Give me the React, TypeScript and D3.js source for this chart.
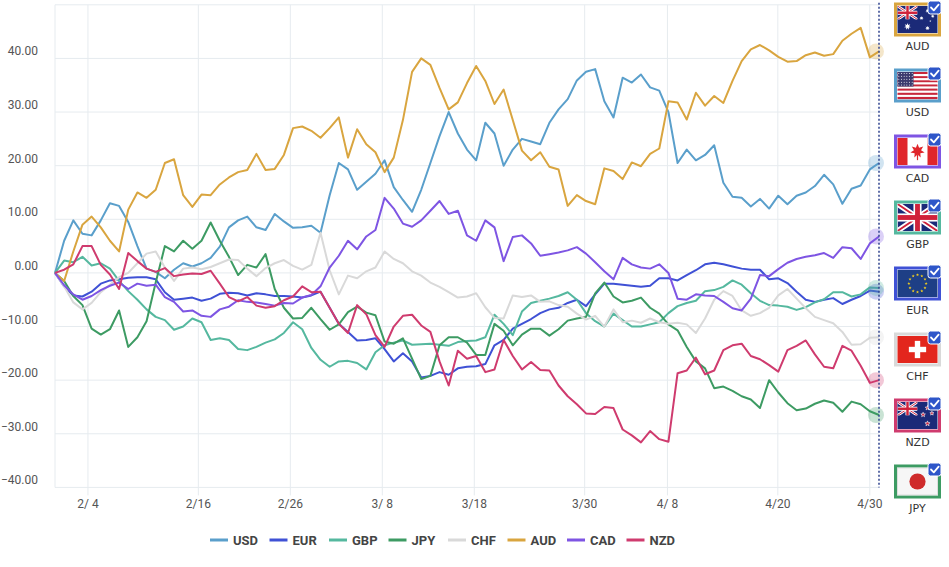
import React from "react";
import * as d3 from "d3";

const currencies = ["USD", "EUR", "GBP", "JPY", "CHF", "AUD", "CAD", "NZD"];
const lineColors = ["#5a9fcb", "#3f51d5", "#55b89f", "#3d9b63", "#d9d9d9", "#d9a53f", "#7e55e3", "#cf3b6e"];

const firstTime = "2019-01-31T10:00";
const lastTime = "2019-05-01T00:00";
const xTickDays = ["2019-02-04", "2019-02-16", "2019-02-26", "2019-03-08", "2019-03-18", "2019-03-30", "2019-04-08", "2019-04-20", "2019-04-30"];
const yTickValues = [-40, -30, -20, -10, 0, 10, 20, 30, 40];

const usd = [
  0, 6, 9.8, 7.3, 7, 9.8, 13, 12.5, 9.5, 5,
  0.8, 0.2, -1, 0.6, 1.8, 1.2, 1.8, 2.8, 4.9, 8.5,
  9.8, 10.5, 8.5, 8, 11, 9.6, 8.4, 8.5, 8.8, 7.5,
  14.5, 20.5, 19.3, 15.5, 17, 18.5, 21, 16, 13.6, 11.4,
  15.5, 20.5, 25.5, 30, 26, 23, 21, 28, 26, 20,
  23, 25, 24.5, 24, 28, 30.5, 32.4, 35.9, 37.5, 38,
  32, 29, 36.4, 35.5, 37, 34.6, 34, 30, 20.5, 23,
  21, 22, 23.8, 16.8, 14.2, 14, 12.4, 13.8, 12, 14.4,
  12.8, 14.4, 15, 16.2, 18.3, 16.5, 12.9, 15.7, 16.3, 19.3,
  20.5,
];
const eur = [
  0, -2.5, -4.2, -4.4, -3.5, -2, -1.4, -1.2, -0.9, -0.8,
  -0.8, -1.2, -3.6, -5, -4.8, -4.6, -5.2, -4.8, -3.9, -3.7,
  -3.8, -4.2, -3.8, -4, -4.3, -4.3, -4.4, -4.6, -4.2, -3.5,
  -6.5, -9.5, -11, -12.6, -12.5, -12.2, -14.2, -16.5, -15, -16.5,
  -19.5, -19.2, -18.5, -19, -17.8, -17.5, -17.4, -17, -13.5, -12.5,
  -10.4, -9.5, -8.6, -7.5, -6.8, -6.5, -5.6, -5, -6.2, -4,
  -2, -2, -2.2, -2.4, -2.6, -2.4, -1, -1, -1.4, -0.4,
  0.5, 1.6, 1.9, 1.6, 1.2, 0.8, 0.6, 0.6, -1.2, -1,
  -1.9, -3.5, -5, -5.4, -5, -4.7, -5.8, -5, -4.3, -3.3,
  -3.5,
];
const gbp = [
  0, 2.3, 2, 3, 1.4, 1.8, 0.8, -1.5, -3.4, -5,
  -6.8, -8.2, -8.8, -10.6, -10, -8.5, -9.2, -12.5, -12.2, -12.5,
  -14.2, -14.4, -13.8, -13, -12.4, -11.2, -9.2, -10.5, -14, -16.2,
  -17.5, -16.5, -16.4, -16.8, -18, -14.8, -13.5, -13, -12.6, -13.4,
  -13.3, -13.2, -13.4, -13.6, -12.9, -12.7, -12.6, -12, -7.8, -9.5,
  -11.6, -7.2, -5.6, -5.2, -4.8, -4.3, -3.6, -5, -7.5, -9,
  -10, -7.6, -8.8, -10, -10, -9.6, -9.2, -7.5, -6.2, -5.6,
  -5.2, -3.4, -3.2, -2.6, -1.4, -2.2, -3.8, -5.2, -6, -6.1,
  -6.3, -6.9, -6.4, -5.5, -4.9, -3.6, -3.6, -4.4, -4, -2.7,
  -2.8,
];
const jpy = [
  0, -1.5, -4.3, -6, -10.4, -11.5, -10.5, -7, -13.8, -12,
  -9, -1.8, 5, 4, 6, 4.5, 6, 9.4, 6, 3,
  -0.4, 1.5, 1, 3.5, -3, -6.5, -8.5, -8.4, -6.5, -8.6,
  -10.6, -9.6, -7.3, -6.3, -7.4, -7.9, -12.8, -13.2, -12.2, -16,
  -19.8, -19.2, -13.5, -12, -12, -13, -15.3, -15.3, -9.5, -10.8,
  -13.5, -11.5, -10.4, -10.4, -11.7, -10.5, -8.9, -8.5, -8.2, -3.8,
  -1.8, -4.4, -5.5, -5.2, -4.6, -6.5, -7.6, -9.6, -10.7, -13.8,
  -16.5, -17.8, -21.5, -21.2, -22, -23, -23.6, -25.2, -20, -22.3,
  -24.3, -25.6, -25.3, -24.4, -23.8, -24.2, -25.9, -24, -24.5, -25.8,
  -26.5,
];
const chf = [
  0, -2.5, -5.5, -6.8, -5.6, -3.6, -2.2, -0.8, 0, 1.8,
  3.6, 4, 1, -1.5, 0.8, 1, 0.7, 1.1, 1.8, 2.5,
  2.4, 0.8, -0.6, 0.9, 1.8, 2.4, 1.3, 0.6, 1.5, 7.5,
  0.5, -4, -0.5, -1, 0.3, 1, 4, 2.6, 1.8, 0.3,
  -0.5, -1.8, -2.6, -3.6, -4.6, -4.4, -3.8, -6.4, -8.4, -8.5,
  -4.2, -4.5, -4.2, -5.4, -5.3, -6, -6.3, -7.6, -8.7, -8,
  -10, -6.8, -9.2, -8.9, -9.3, -8.5, -9.2, -9.5, -9.3, -9.6,
  -11.2, -8.5, -5, -3.4, -4.3, -7, -8, -7.5, -6.5, -4.2,
  -3, -4.8, -6.6, -8.2, -8.8, -9.4, -11, -13.4, -13.3, -12.1,
  -12,
];
const aud = [
  0, -1.5, 4, 9, 10.5, 8.5, 6, 4, 11.8, 15,
  14, 15.5, 20.5, 21.2, 14.5, 12.3, 14.6, 14.5, 16.5, 17.8,
  18.8, 19.2, 22.2, 19.2, 19.4, 22, 27, 27.3, 26.5, 25.2,
  27, 29, 21.5, 26.8, 24, 22.5, 18.8, 21.5, 28.5, 37.5,
  40, 38.8, 34.5, 30.5, 31.8, 35.4, 38.6, 35.8, 31.5, 34.2,
  28.5, 22.8, 21, 22.5, 19.8, 19.3, 12.5, 14.5, 13.4, 12.8,
  19.5, 19, 17.5, 20.6, 19.9, 22.2, 23.2, 32, 31.8, 28.6,
  33.6, 31.2, 33, 31.7, 35.8, 39.5, 41.7, 42.5, 41.5, 40.3,
  39.4, 39.5, 40.6, 41.1, 40.5, 40.8, 43.3, 44.6, 45.7, 40.2,
  41.3,
];
const cad = [
  0, -2.3, -4, -5, -4.3, -3.2, -2.4, -1.8, -3, -2,
  -2.4, -2.2, -4.5, -5.4, -7.2, -7, -8, -8.2, -6.8, -6.3,
  -5.1, -5.4, -5.5, -5.8, -6.1, -5.6, -5.7, -4.6, -4.1, -2.5,
  1, 3.2, 6, 4.4, 6.8, 8, 14, 12, 9.2, 8.6,
  9.8, 11.6, 13.4, 11, 11.6, 7, 6, 9.8, 8.5, 2.2,
  6.7, 7, 5.5, 3.2, 3.5, 3.8, 4.2, 4.8, 3.6, 2,
  0.3, -1.2, 2.8, 1.6, 1, 0.8, 1.6, 0, -4.8, -5,
  -4, -4.2, -4.3, -5.4, -6.6, -7, -4.8, -0.4, -0.6, 0.7,
  1.9, 2.6, 3, 3.3, 3.7, 2.8, 4.8, 4.6, 2.6, 5.5,
  6.8,
];
const nzd = [
  0, 0.6, 1.6, 5, 5, 1.5, -0.3, -3, 3.7, 2.2,
  0.8, 0.2, 0.9, -0.6, -0.3, -0.1, -0.2, 0.4, -2, -4.5,
  -5.3, -4.5, -6.1, -6.5, -6.2, -5.1, -4.4, -2.5, -3.6, -3.5,
  -6.5, -9.5, -11.2, -6, -7.7, -11.6, -13.8, -10, -8, -7.8,
  -9.8, -11, -16.5, -21, -14.5, -16, -15.5, -18.5, -18, -12.5,
  -15.5, -18, -16.6, -18.1, -18.2, -21, -23, -24.5, -26.2, -26.3,
  -25, -25.2, -29.2, -30.3, -31.6, -29.5, -31, -31.5, -18.7, -18.2,
  -15.8, -18.9, -18.2, -14.4, -13.5, -13.2, -15.5, -16.1, -17.2, -18.4,
  -14.4, -13.6, -12.6, -15.2, -17.5, -17.8, -13.6, -14.5, -17.3, -20.5,
  -20,
];

const seriesValues = [usd, eur, gbp, jpy, chf, aud, cad, nzd];

// star polygon for the little flags
function star(cx: number, cy: number, r: number, n = 5, inner = 0.42) {
  return d3
    .range(n * 2)
    .map((k) => {
      const a = -Math.PI / 2 + (k * Math.PI) / n;
      const rr = k % 2 ? r * inner : r;
      return `${cx + rr * Math.cos(a)},${cy + rr * Math.sin(a)}`;
    })
    .join(" ");
}

function UnionJack({ w, h, id }: { w: number; h: number; id: string }) {
  const diag = `M0,0L${w},${h}M${w},0L0,${h}`;
  return (
    <g clipPath={`url(#uj-${id})`}>
      <clipPath id={`uj-${id}`}>
        <rect width={w} height={h} />
      </clipPath>
      <rect width={w} height={h} fill="#1b2a78" />
      <path d={diag} stroke="#fff" strokeWidth={h * 0.2} />
      <path d={diag} stroke="#d0213a" strokeWidth={h * 0.07} />
      <rect y={h * 0.35} width={w} height={h * 0.3} fill="#fff" />
      <rect x={w / 2 - h * 0.15} width={h * 0.3} height={h} fill="#fff" />
      <rect y={h * 0.41} width={w} height={h * 0.18} fill="#d0213a" />
      <rect x={w / 2 - h * 0.09} width={h * 0.18} height={h} fill="#d0213a" />
    </g>
  );
}

function FlagArt({ code, w, h }: { code: string; w: number; h: number }) {
  switch (code) {
    case "AUD":
      return (
        <g>
          <rect width={w} height={h} fill="#1b2a78" />
          <UnionJack w={w / 2} h={h / 2} id="aud" />
          <polygon points={star(w * 0.25, h * 0.76, h * 0.13, 7, 0.45)} fill="#fff" />
          <polygon points={star(w * 0.75, h * 0.18, h * 0.08, 7, 0.45)} fill="#fff" />
          <polygon points={star(w * 0.6, h * 0.45, h * 0.08, 7, 0.45)} fill="#fff" />
          <polygon points={star(w * 0.88, h * 0.38, h * 0.07, 7, 0.45)} fill="#fff" />
          <polygon points={star(w * 0.75, h * 0.82, h * 0.09, 7, 0.45)} fill="#fff" />
          <polygon points={star(w * 0.82, h * 0.56, h * 0.04)} fill="#fff" />
        </g>
      );
    case "USD": {
      const cw = w * 0.4;
      const ch = (h * 7) / 13;
      return (
        <g>
          {d3.range(13).map((k) => (
            <rect key={k} y={(k * h) / 13} width={w} height={h / 13 + 0.2} fill={k % 2 ? "#fff" : "#c8283c"} />
          ))}
          <rect width={cw} height={ch} fill="#3c3b6e" />
          {d3.range(5).map((r) =>
            d3.range(6).map((c) => (
              <circle key={`${r}-${c}`} cx={(cw * (c + 0.5)) / 6} cy={(ch * (r + 0.5)) / 5} r={0.5} fill="#fff" />
            ))
          )}
        </g>
      );
    }
    case "CAD":
      return (
        <g>
          <rect width={w} height={h} fill="#fff" />
          <rect width={w / 4} height={h} fill="#e0262b" />
          <rect x={(w * 3) / 4} width={w / 4} height={h} fill="#e0262b" />
          <polygon points={star(w / 2, h * 0.48, h * 0.27, 7, 0.5)} fill="#e0262b" />
          <rect x={w / 2 - 0.6} y={h * 0.6} width={1.2} height={h * 0.22} fill="#e0262b" />
        </g>
      );
    case "GBP":
      return <UnionJack w={w} h={h} id="gbp" />;
    case "EUR":
      return (
        <g>
          <rect width={w} height={h} fill="#1e3f86" />
          {d3.range(12).map((k) => {
            const a = (k * Math.PI) / 6;
            return (
              <polygon
                key={k}
                points={star(w / 2 + h * 0.32 * Math.cos(a), h / 2 + h * 0.32 * Math.sin(a), h * 0.06)}
                fill="#f2cf1f"
              />
            );
          })}
        </g>
      );
    case "CHF":
      return (
        <g>
          <rect width={w} height={h} fill="#e3261d" />
          <rect x={w / 2 - h * 0.1} y={h * 0.18} width={h * 0.2} height={h * 0.64} fill="#fff" />
          <rect x={w / 2 - h * 0.32} y={h * 0.4} width={h * 0.64} height={h * 0.2} fill="#fff" />
        </g>
      );
    case "NZD":
      return (
        <g>
          <rect width={w} height={h} fill="#1b2a78" />
          <UnionJack w={w / 2} h={h / 2} id="nzd" />
          {[
            [0.75, 0.22, 0.09],
            [0.64, 0.47, 0.09],
            [0.86, 0.42, 0.08],
            [0.75, 0.8, 0.1],
          ].map(([sx, sy, sr], k) => (
            <polygon key={k} points={star(w * sx, h * sy, h * sr)} fill="#d0213a" stroke="#fff" strokeWidth={0.6} />
          ))}
        </g>
      );
    default:
      return (
        <g>
          <rect width={w} height={h} fill="#f6f6f6" stroke="#ddd" strokeWidth={1} />
          <circle cx={w / 2} cy={h / 2} r={h * 0.3} fill="#cf2b2b" />
        </g>
      );
  }
}

export default function App() {
  const width = 949;
  const height = 567;
  const left = 55;
  const right = 879;
  const top = 4.8;
  const bottom = 487.4;

  const parseDay = d3.timeParse("%Y-%m-%d");
  const parseTime = d3.timeParse("%Y-%m-%dT%H:%M");
  const t0 = parseTime(firstTime) as Date;
  const t1 = parseTime(lastTime) as Date;

  const x = d3.scaleTime().domain([t0, t1]).range([left, right]);
  const y = d3.scaleLinear().domain([-40, 50]).range([bottom, top]);

  const n = usd.length;
  const times = d3.range(n).map((i) => new Date(+t0 + (i * (+t1 - +t0)) / (n - 1)));
  const line = d3
    .line<number>()
    .x((_, i) => x(times[i]))
    .y((d) => y(d));

  const fmtX = d3.timeFormat("%-m/%e");
  const fmtY = d3.format(".2f");
  const xTicks = xTickDays.map((s) => parseDay(s) as Date);

  // flags panel, ordered by the last value
  const order = d3.range(currencies.length).sort(
    (a, b) => seriesValues[b][n - 1] - seriesValues[a][n - 1]
  );

  const gridColor = "#e6ebef";
  const font = "Roboto, sans-serif";

  return (
    <svg
      width={width}
      height={height}
      style={{ position: "absolute", left: 0, top: 0, background: "#fff" }}
    >
      {/* grid */}
      <g>
        {d3.range(-40, 51, 10).map((v) => (
          <line key={v} x1={left} x2={right} y1={y(v)} y2={y(v)} stroke={gridColor} strokeWidth={1} />
        ))}
        <line x1={left} x2={left} y1={top} y2={bottom} stroke={gridColor} strokeWidth={1} />
        {xTicks.map((d, i) => (
          <line key={i} x1={x(d)} x2={x(d)} y1={top} y2={bottom + 8} stroke={gridColor} strokeWidth={1} />
        ))}
      </g>

      {/* axis labels */}
      <g fontFamily={font} fontSize={12} fill="#555">
        {yTickValues.map((v) => (
          <text key={v} x={38} y={y(v) - 3} textAnchor="end">
            {fmtY(v)}
          </text>
        ))}
        {xTicks.map((d, i) => (
          <text key={i} x={x(d)} y={508} textAnchor="middle" style={{ whiteSpace: "pre" }}>
            {fmtX(d)}
          </text>
        ))}
      </g>

      {/* series */}
      <g fill="none" strokeWidth={2} strokeLinejoin="round">
        {seriesValues.map((vals, k) => (
          <path key={currencies[k]} d={line(vals) || ""} stroke={lineColors[k]} />
        ))}
      </g>
      <g>
        {seriesValues.map((vals, k) => (
          <circle
            key={currencies[k]}
            cx={x(times[n - 1]) - 3}
            cy={y(vals[n - 1])}
            r={8}
            fill={lineColors[k]}
            fillOpacity={0.28}
          />
        ))}
      </g>

      {/* cursor line */}
      <line
        x1={x(times[n - 1])}
        x2={x(times[n - 1])}
        y1={top - 2}
        y2={bottom}
        stroke="#2f438f"
        strokeWidth={1.5}
        strokeDasharray="2,2"
      />

      {/* legend */}
      <g fontFamily={font} fontSize={13} fontWeight="bold" fill="#444">
        {currencies.map((c, k) => {
          const x0 = 210 + k * 59.5;
          return (
            <g key={c}>
              <line x1={x0} x2={x0 + 18} y1={540} y2={540} stroke={lineColors[k]} strokeWidth={3} />
              <text x={x0 + 23} y={544.5}>
                {c}
              </text>
            </g>
          );
        })}
      </g>

      {/* flags */}
      <g>
        {order.map((k, j) => {
          const fy = 2.5 + j * 66;
          const fx = 894;
          const code = currencies[k];
          return (
            <g key={code}>
              <clipPath id={`flag-${code}`}>
                <rect x={fx + 3} y={fy + 3} width={41} height={28} />
              </clipPath>
              <rect x={fx + 1.5} y={fy + 1.5} width={44} height={31} fill="#fff" stroke={lineColors[k]} strokeWidth={3} />
              <g clipPath={`url(#flag-${code})`}>
                <g transform={`translate(${fx + 3.5},${fy + 3.5})`}>
                  <FlagArt code={code} w={40} h={27} />
                </g>
              </g>
              <rect x={fx + 34} y={fy - 1.5} width={13} height={13} rx={2.5} fill="#2e56c9" stroke="#fff" strokeWidth={1} />
              <path
                d={`M${fx + 37},${fy + 5}l2.8,2.8l4.8,-5.6`}
                fill="none"
                stroke="#fff"
                strokeWidth={1.8}
                strokeLinecap="round"
                strokeLinejoin="round"
              />
              <text
                x={fx + 23.5}
                y={fy + 47.5}
                textAnchor="middle"
                fontFamily="'DejaVu Sans', sans-serif"
                fontSize={11}
                fill="#333"
              >
                {code}
              </text>
            </g>
          );
        })}
      </g>
    </svg>
  );
}
